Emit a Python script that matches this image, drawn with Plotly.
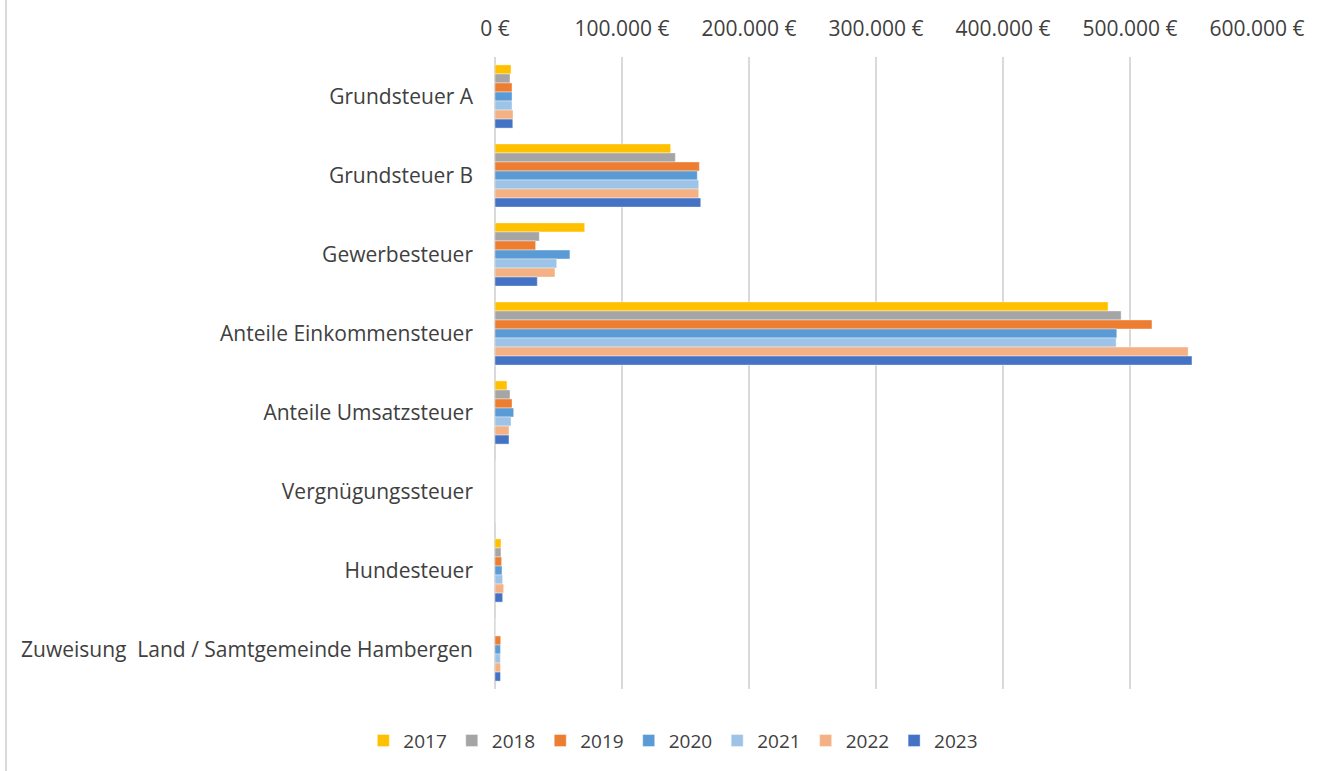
import plotly.graph_objects as go

categories = [
    "Grundsteuer A",
    "Grundsteuer B",
    "Gewerbesteuer",
    "Anteile Einkommensteuer",
    "Anteile Umsatzsteuer",
    "Vergnügungssteuer",
    "Hundesteuer",
    "Zuweisung  Land / Samtgemeinde Hambergen",
]

years = ["2017", "2018", "2019", "2020", "2021", "2022", "2023"]
colors = ["#FFC000", "#A5A5A5", "#ED7D31", "#5B9BD5", "#9DC3E6", "#F4B183", "#4472C4"]

v2017 = [12600, 138300, 70600, 482700, 9400, 0, 4700, 0]
v2018 = [11800, 142000, 34900, 493000, 11800, 0, 4700, 0]
v2019 = [13400, 160900, 32000, 517300, 13400, 0, 5200, 4500]
v2020 = [13400, 159300, 59000, 489600, 14700, 0, 5500, 4300]
v2021 = [13400, 160400, 48600, 489100, 12600, 0, 6000, 4200]
v2022 = [14200, 160400, 47200, 545800, 11000, 0, 6800, 4300]
v2023 = [14000, 162000, 33300, 548800, 11000, 0, 6000, 4300]

series = [v2017, v2018, v2019, v2020, v2021, v2022, v2023]

tick_vals = [0, 100000, 200000, 300000, 400000, 500000, 600000]
tick_text = ["0 €", "100.000 €", "200.000 €", "300.000 €", "400.000 €", "500.000 €", "600.000 €"]

fig = go.Figure()
for yr, vals, col in zip(years, series, colors):
    fig.add_trace(go.Bar(
        y=categories, x=vals, name=yr, orientation="h",
        marker=dict(color=col, line=dict(color="white", width=0.4)),
    ))

fig.update_layout(
    width=1329, height=771,
    paper_bgcolor="white", plot_bgcolor="white",
    barmode="group", bargap=0.2, bargroupgap=0,
    font=dict(family="Open Sans, sans-serif", color="#404040", size=21),
    margin=dict(l=495, r=72, t=57, b=81),
    xaxis=dict(
        side="top", range=[0, 600000], tickvals=tick_vals, ticktext=tick_text,
        showgrid=True, gridcolor="#d9d9d9", gridwidth=2, zeroline=True, zerolinecolor="#d9d9d9",
        zerolinewidth=2, showline=False, ticks="", tickfont=dict(size=21, color="#404040"),
        ticklabelstandoff=16, automargin=False,
    ),
    yaxis=dict(
        autorange="reversed", showgrid=False, zeroline=False, ticks="",
        tickfont=dict(size=21, color="#404040"), ticklabelstandoff=21, automargin=False,
    ),
    legend=dict(
        orientation="h", x=0.234, xanchor="center", y=-0.08, yanchor="middle",
        font=dict(size=19, color="#404040"), traceorder="normal", itemwidth=30,
    ),
    shapes=[dict(type="line", xref="paper", yref="paper", x0=-0.6417, x1=-0.6417,
                 y0=-0.2, y1=1.2, line=dict(color="#d9d9d9", width=2))],
)

fig.write_html("out.html", config={"displayModeBar": False},
               post_script="document.body.style.margin='0';")
